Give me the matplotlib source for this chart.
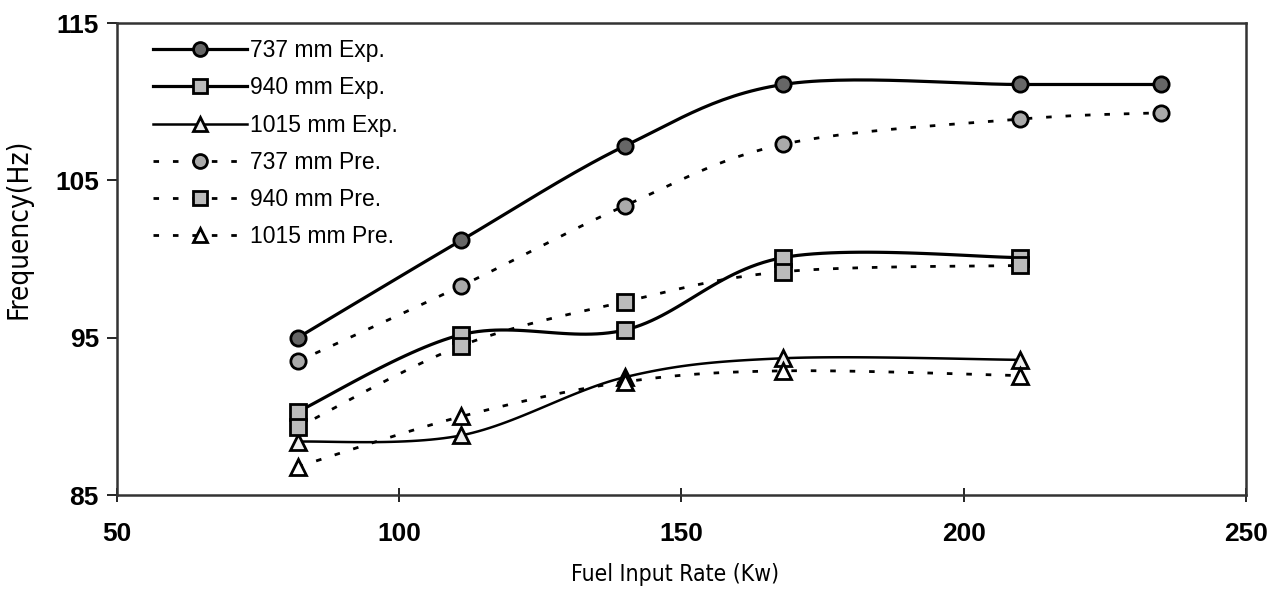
import numpy as np
import matplotlib
matplotlib.use("Agg")
import matplotlib.pyplot as plt
from matplotlib import font_manager
from matplotlib.font_manager import FontProperties

# ---- data ----
x_main = [82, 111, 140, 168, 210, 235]
x_short = [82, 111, 140, 168, 210]

exp_737 = [95.0, 101.2, 107.2, 111.1, 111.1, 111.1]
pre_737 = [93.5, 98.3, 103.4, 107.3, 108.9, 109.3]
exp_940 = [90.3, 95.2, 95.5, 100.1, 100.1]
pre_940 = [89.3, 94.5, 97.3, 99.2, 99.6]
exp_1015 = [88.4, 88.8, 92.5, 93.7, 93.6]
pre_1015 = [86.8, 90.0, 92.2, 92.9, 92.6]

labels = ["737 mm Exp.", "940 mm Exp.", "1015 mm Exp.",
          "737 mm Pre.", "940 mm Pre.", "1015 mm Pre."]
x_ticks = [50, 100, 150, 200, 250]
y_ticks = [85, 95, 105, 115]

plt.rcParams["font.family"] = ["Liberation Sans", "DejaVu Sans"]

# look for a narrow / condensed face for the axis titles
narrow = None
for f in font_manager.fontManager.ttflist:
    if ("Narrow" in f.name or "Condensed" in f.name or
            str(f.stretch) in ("condensed", "semi-condensed", "extra-condensed")) \
            and f.style == "normal" and f.weight in (400, "normal", "regular", "book"):
        if narrow is None or "Liberation" in f.name or "Arial" in f.name:
            narrow = f.fname
if narrow:
    xlab_fp = FontProperties(fname=narrow, size=16.5)
    ylab_fp = FontProperties(fname=narrow, size=20)
else:
    xlab_fp = FontProperties(family="Liberation Sans", size=15.5)
    ylab_fp = FontProperties(family="Liberation Sans", size=16)


def smooth(xs, ys, n=30):
    """Excel-like smoothed line (Catmull-Rom Bezier) through data points."""
    P = np.column_stack([xs, ys]).astype(float)
    out = []
    for i in range(len(P) - 1):
        p0 = P[i - 1] if i > 0 else P[i]
        p1 = P[i]
        p2 = P[i + 1]
        p3 = P[i + 2] if i + 2 < len(P) else P[i + 1]
        c1 = p1 + (p2 - p0) / 6.0
        c2 = p2 - (p3 - p1) / 6.0
        t = np.linspace(0, 1, n)[:, None]
        seg = ((1 - t) ** 3) * p1 + 3 * ((1 - t) ** 2) * t * c1 + 3 * (1 - t) * t ** 2 * c2 + t ** 3 * p2
        out.append(seg if i == 0 else seg[1:])
    S = np.vstack(out)
    return S[:, 0], S[:, 1]


fig = plt.figure(figsize=(12.78, 5.93), dpi=100)
ax = fig.add_axes([0.0915, 0.165, 0.8835, 0.796])

series = [
    (x_main, exp_737, "o", "-", 2.3, "#666666"),
    (x_short, exp_940, "s", "-", 2.3, "#bbbbbb"),
    (x_short, exp_1015, "^", "-", 1.8, "#eeeeee"),
    (x_main, pre_737, "o", (0, (2, 5)), 2.0, "#aaaaaa"),
    (x_short, pre_940, "s", (0, (2, 5)), 2.0, "#bbbbbb"),
    (x_short, pre_1015, "^", (0, (2, 5)), 2.0, "#ffffff"),
]

for (xs, ys, mk, ls, lw, fc), lab in zip(series, labels):
    sx, sy = smooth(xs, ys)
    ax.plot(sx, sy, color="black", linestyle=ls, linewidth=lw, zorder=2)
    ax.plot(xs, ys, linestyle="none", marker=mk, markersize=11,
            markerfacecolor=fc, markeredgecolor="black", markeredgewidth=2.0, zorder=3)
    ax.plot([], [], color="black", linestyle=ls, linewidth=lw, marker=mk, markersize=10,
            markerfacecolor=fc, markeredgecolor="black", markeredgewidth=2.0, label=lab)

ax.set_xlim(50, 250)
ax.set_ylim(85, 115)
ax.set_xticks(x_ticks)
ax.set_yticks(y_ticks)
ax.tick_params(axis="x", direction="inout", length=10, width=1.2, labelsize=19, pad=14)
ax.tick_params(axis="y", direction="out", length=7, width=1.2, labelsize=19, pad=6)
for t in ax.get_xticklabels() + ax.get_yticklabels():
    t.set_fontweight("bold")
for s in ax.spines.values():
    s.set_linewidth(1.8)
    s.set_color("#333333")

ax.set_xlabel("Fuel Input Rate (Kw)", fontproperties=xlab_fp)
ax.set_ylabel("Frequency(Hz)", fontproperties=ylab_fp)
ax.xaxis.set_label_coords(0.494, -0.144)
ax.yaxis.set_label_coords(-0.075, 0.564)

leg = ax.legend(loc="upper left", bbox_to_anchor=(0.02, 0.995), frameon=False,
                prop=FontProperties(family="Liberation Sans", size=16.5),
                handlelength=4.1, handletextpad=0.1, labelspacing=0.62,
                borderaxespad=0.2)

fig.savefig("out.png", dpi=100)
